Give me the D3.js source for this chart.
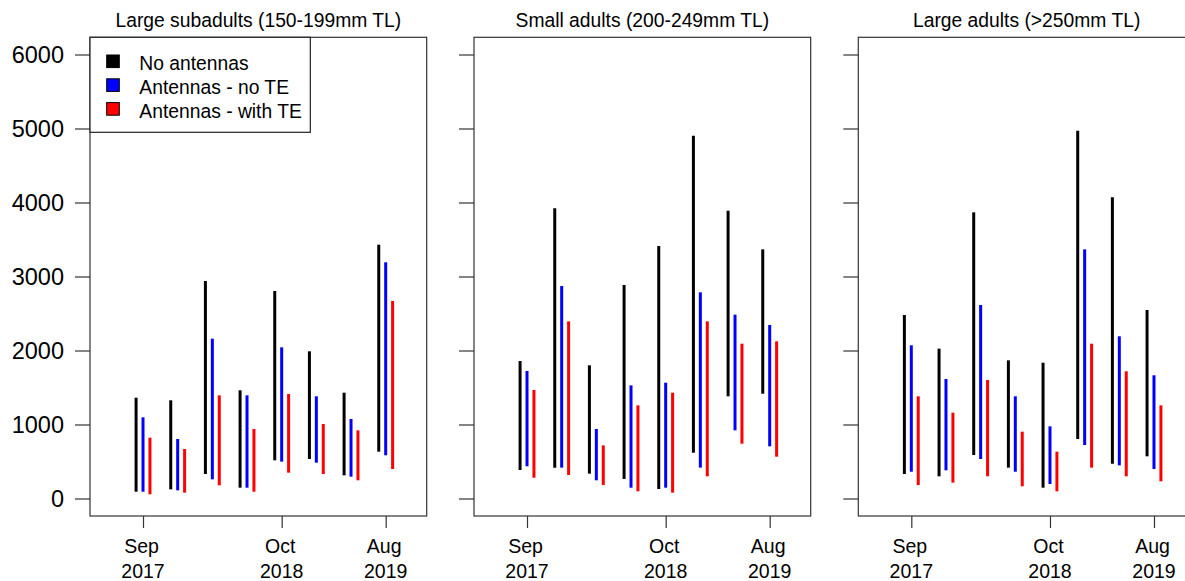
<!DOCTYPE html>
<html>
<head>
<meta charset="utf-8">
<script src="https://cdn.jsdelivr.net/npm/d3@7"></script>
<style>
  html, body { margin: 0; padding: 0; background: #fff; }
  svg { display: block; font-family: Arial, "Liberation Sans", sans-serif; }
</style>
</head>
<body>
<svg id="chart" width="1185" height="581"></svg>
<script>
// ---------- DATA ----------
const events = [1, 2, 3, 4, 5, 6, 7, 8];            // sampling events
const tickEvents = [1, 5, 8];
const tickMonths = ["Sep", "Oct", "Aug"];
const tickYears = ["2017", "2018", "2019"];
const yTicks = [0, 1000, 2000, 3000, 4000, 5000, 6000];
const panelTitles = ["Large subadults (150-199mm TL)", "Small adults (200-249mm TL)", "Large adults (>250mm TL)"];
const seriesNames = ["No antennas", "Antennas - no TE", "Antennas - with TE"];
const seriesColors = ["#000000", "#0000ff", "#ff0000"];

// [low, high] ranges per event
const subNoAnt   = [[92,1362],[124,1327],[331,2939],[146,1462],[516,2804],[534,1989],[313,1430],[633,3430]];
const subAntNoTE = [[92,1097],[110,804],[259,2160],[146,1394],[498,2043],[484,1381],[295,1074],[584,3192]];
const subAntTE   = [[57,822],[79,669],[178,1394],[92,939],[349,1412],[331,1007],[246,921],[399,2669]];

const smallNoAnt   = [[385,1858],[417,3922],[336,1800],[264,2885],[128,3412],[619,4903],[1381,3889],[1416,3367]];
const smallAntNoTE = [[435,1723],[417,2872],[246,939],[146,1529],[146,1565],[417,2786],[921,2484],[705,2345]];
const smallAntTE   = [[281,1466],[318,2394],[182,718],[97,1259],[79,1430],[300,2394],[741,2092],[565,2124]];

const largeNoAnt   = [[331,2480],[300,2025],[588,3867],[417,1867],[146,1835],[804,4970],[471,4070],[570,2547]];
const largeAntNoTE = [[362,2070],[381,1615],[534,2615],[362,1381],[196,975],[723,3367],[448,2192],[399,1665]];
const largeAntTE   = [[182,1381],[214,1160],[300,1601],[165,903],[97,633],[417,2092],[300,1719],[232,1259]];

const seriesOffsets = [-0.2, 0, 0.2];

// ---------- LAYOUT ----------
const panels = [
  { title: panelTitles[0], series: [subNoAnt, subAntNoTE, subAntTE], left: 90 },
  { title: panelTitles[1], series: [smallNoAnt, smallAntNoTE, smallAntTE], left: 474 },
  { title: panelTitles[2], series: [largeNoAnt, largeAntNoTE, largeAntTE], left: 858.3 }
];
const pw = 336.7, plotTop = 37.3, plotBottom = 516;

const svg = d3.select("#chart");
const y = d3.scaleLinear().domain([0, 6000]).range([498.5, 54.5]);

panels.forEach((p, pi) => {
  const x = d3.scaleLinear().domain([-0.529, 9.183]).range([p.left, p.left + pw]);
  const g = svg.append("g");

  // bars
  p.series.forEach((ser, si) => {
    g.selectAll(null).data(ser).enter().append("line")
      .attr("x1", (d, i) => x(events[i] + seriesOffsets[si]))
      .attr("x2", (d, i) => x(events[i] + seriesOffsets[si]))
      .attr("y1", d => y(d[0]))
      .attr("y2", d => y(d[1]))
      .attr("stroke", seriesColors[si])
      .attr("stroke-width", 3);
  });

  // box
  g.append("rect")
    .attr("x", p.left).attr("y", plotTop)
    .attr("width", pw).attr("height", plotBottom - plotTop)
    .attr("fill", "none").attr("stroke", "#333").attr("stroke-width", 1.2);

  // y axis
  const yAxis = d3.axisLeft(y).tickValues(yTicks).tickSize(15).tickPadding(11)
    .tickFormat(pi === 0 ? d3.format("d") : () => "");
  const ya = g.append("g").attr("transform", `translate(${p.left},0)`).call(yAxis);
  ya.select(".domain").remove();
  ya.selectAll(".tick line").attr("stroke", "#333").attr("stroke-width", 1.2);
  ya.selectAll(".tick text").attr("font-size", 23.5).attr("fill", "#000")
    .attr("font-family", "Arial, 'Liberation Sans', sans-serif");

  // x axis
  const xAxis = d3.axisBottom(x).tickValues(tickEvents).tickSize(12).tickFormat(() => "");
  const xa = g.append("g").attr("transform", `translate(0,${plotBottom})`).call(xAxis);
  xa.select(".domain").remove();
  xa.selectAll(".tick line").attr("stroke", "#333").attr("stroke-width", 1.2);
  tickEvents.forEach((t, i) => {
    g.append("text").attr("x", x(t) - 1.5).attr("y", 553)
      .attr("text-anchor", "middle").attr("font-size", 19.5).text(tickMonths[i]);
    g.append("text").attr("x", x(t)).attr("y", 578)
      .attr("text-anchor", "middle").attr("font-size", 19.5).text(tickYears[i]);
  });

  // title
  g.append("text").attr("x", p.left + pw / 2).attr("y", 26.5)
    .attr("text-anchor", "middle").attr("font-size", 19.3).text(p.title);

  // legend (first panel)
  if (pi === 0) {
    const lg = g.append("g");
    lg.append("rect").attr("x", p.left).attr("y", plotTop)
      .attr("width", 220.3).attr("height", 95)
      .attr("fill", "#fff").attr("stroke", "#222").attr("stroke-width", 1.2);
    seriesNames.forEach((name, i) => {
      lg.append("rect").attr("x", 106.7).attr("y", 55 + i * 23.8)
        .attr("width", 12.6).attr("height", 12.6)
        .attr("fill", seriesColors[i]).attr("stroke", "#000").attr("stroke-width", 1);
      lg.append("text").attr("x", 139.3).attr("y", 70 + i * 23.8)
        .attr("font-size", 19.3).text(name);
    });
  }
});
</script>
</body>
</html>
